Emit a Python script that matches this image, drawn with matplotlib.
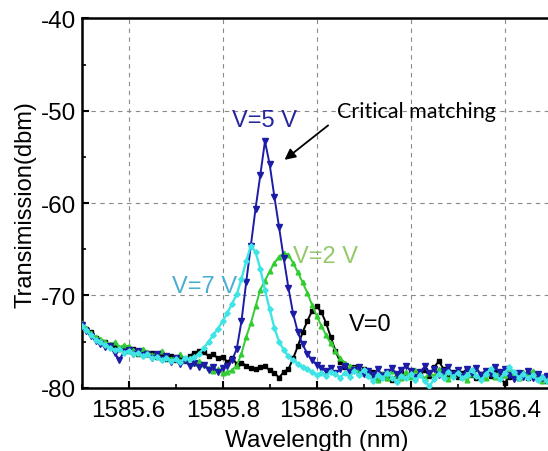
import numpy as np
import matplotlib
matplotlib.use("Agg")
import matplotlib.pyplot as plt
from matplotlib.ticker import MultipleLocator

# Wavelength sampling grid (nm)
wavelength = np.round(np.arange(1585.50, 1586.505, 0.01), 2)

v0 = [-73.1, -73.6, -74.0, -74.6, -74.9, -75.1, -75.5, -75.4, -75.8, -75.7,
      -76.0, -75.8, -76.3, -76.1, -76.4, -76.2, -76.7, -76.5, -76.9, -76.6,
      -77.0, -76.8, -77.1, -76.6, -76.2, -76.0, -76.1, -76.6, -76.4, -76.8,
      -76.7, -77.2, -76.8, -77.4, -77.3, -77.6, -77.9, -78.0, -77.8, -77.7,
      -78.1, -78.4, -78.9, -78.3, -78.0, -76.8, -75.5, -74.0, -72.8, -71.7,
      -71.2, -71.8, -73.0, -74.5, -76.0, -77.2, -77.8, -78.1, -77.8, -78.4,
      -78.0, -78.6, -78.3, -78.9, -78.5, -79.0, -79.2, -78.7, -78.3, -78.8,
      -78.4, -78.9, -78.5, -78.1, -78.7, -77.8, -77.1, -78.0, -78.6, -78.3,
      -78.8, -78.4, -78.0, -78.6, -79.0, -78.5, -78.2, -78.7, -78.3, -78.9,
      -79.5, -78.8, -78.4, -78.9, -78.5, -79.0, -78.6, -79.1, -78.8, -79.3, -79.0]

v2 = [-73.0, -73.5, -74.1, -74.5, -74.7, -75.0, -75.3, -75.1, -75.6, -75.4,
      -75.5, -75.9, -76.2, -75.8, -76.1, -76.5, -76.3, -76.0, -76.6, -76.9,
      -76.7, -76.4, -77.0, -76.8, -77.3, -77.1, -77.4, -77.9, -78.2, -78.0,
      -78.4, -78.3, -78.1, -77.6, -76.3, -74.5, -73.0, -71.2, -69.4, -68.4,
      -67.4, -66.5, -65.8, -65.4, -65.6, -66.5, -67.5, -68.6, -69.7, -71.0,
      -72.2, -73.3, -74.3, -75.2, -76.0, -76.8, -77.3, -77.6, -77.9, -78.0,
      -78.4, -78.1, -78.7, -79.2, -78.5, -78.9, -78.2, -78.6, -79.0, -78.3,
      -78.8, -78.1, -78.5, -79.0, -78.4, -78.7, -78.0, -78.5, -79.1, -78.6,
      -78.2, -78.8, -79.2, -78.5, -78.0, -78.6, -79.0, -78.4, -78.8, -78.2,
      -78.6, -77.9, -78.4, -78.9, -78.3, -78.7, -78.2, -78.8, -79.3, -78.6, -79.0]

v5 = [-73.2, -73.9, -74.4, -74.9, -75.3, -75.6, -75.5, -76.2, -77.0, -76.1,
      -75.9, -76.3, -76.0, -76.5, -76.3, -76.8, -76.4, -76.9, -76.6, -77.2,
      -76.8, -77.4, -77.0, -77.6, -77.3, -77.8, -77.5, -78.1, -77.8, -78.3,
      -77.9, -77.6, -77.0, -75.8, -72.8, -68.6, -64.6, -60.6, -57.0, -53.3,
      -55.8, -59.3, -62.6, -66.0, -69.2, -72.0, -74.0, -75.3, -76.3, -77.0,
      -77.5, -77.9, -78.2, -77.9, -78.4, -78.0, -77.6, -78.3, -78.1, -77.8,
      -78.5, -78.2, -78.6, -78.0, -78.7, -78.3, -77.9, -78.5, -78.1, -77.6,
      -78.2, -78.8, -78.3, -77.7, -78.4, -78.0, -78.6, -78.2, -77.8, -78.5,
      -78.1, -78.7, -78.0, -78.4, -77.9, -78.6, -78.2, -78.5, -77.8, -78.3,
      -78.0, -78.6, -79.1, -78.4, -78.8, -78.2, -78.9, -78.5, -79.0, -78.7, -79.2]

v7 = [-73.3, -73.8, -74.3, -74.8, -75.1, -75.4, -75.7, -75.9, -75.8, -76.2,
      -76.0, -76.4, -76.2, -76.6, -76.4, -76.8, -76.7, -77.0, -76.8, -77.1,
      -76.9, -77.2, -76.8, -76.9, -76.7, -76.3, -75.7, -75.0, -74.3, -73.6,
      -72.8, -71.9, -70.9, -69.9, -68.2, -66.3, -64.6, -65.3, -67.1, -69.4,
      -71.5, -73.5, -75.0, -75.9, -76.6, -77.0, -77.4, -77.8, -78.0, -78.3,
      -78.6, -78.4, -78.7, -78.3, -78.5, -78.9, -78.4, -78.8, -78.2, -78.6,
      -78.1, -78.7, -79.3, -78.6, -79.0, -78.4, -78.9, -79.4, -78.7, -79.0,
      -78.5, -79.2, -78.6, -79.3, -79.8, -79.1, -78.5, -78.9, -78.3, -78.8,
      -78.4, -79.0, -78.6, -78.1, -78.7, -79.2, -78.5, -78.0, -78.6, -79.1,
      -78.4, -77.8, -78.3, -78.9, -78.5, -79.0, -78.6, -79.2, -78.8, -79.3, -79.6]

labels = ["V=0", "V=2 V", "V=5 V", "V=7 V"]

plt.rcParams['font.family'] = ['Liberation Sans', 'DejaVu Sans']
plt.rcParams['axes.unicode_minus'] = False

fig = plt.figure(figsize=(5.48, 4.52), dpi=100)
ax = fig.add_axes([0.149, 0.140, 0.8577, 0.817])

ax.plot(wavelength, v0, color='black', marker='s', ms=3.2, lw=1.4, zorder=3)
ax.plot(wavelength, v2, color='#33cc33', marker='^', ms=3.4, lw=1.4, zorder=4)
ax.plot(wavelength, v5, color='#1c1ca6', marker='v', ms=3.8, lw=1.4, zorder=5)
ax.plot(wavelength, v7, color='#40e4e4', marker='D', ms=2.8, lw=1.7, zorder=6)

ax.set_xlim(1585.5, 1586.5)
ax.set_ylim(-80, -40)
ax.xaxis.set_minor_locator(MultipleLocator(0.1))
ax.yaxis.set_major_locator(MultipleLocator(10))
ax.yaxis.set_minor_locator(MultipleLocator(5))
ax.set_xticks([1585.6, 1585.8, 1586.0, 1586.2, 1586.4])
ax.set_xticklabels(["1585.6", "1585.8", "1586.0", "1586.2", "1586.4"])

ax.tick_params(which='major', direction='in', length=5, width=1.5, labelsize=17.5, pad=8)
ax.tick_params(which='minor', direction='in', length=3, width=1.2)
ax.tick_params(axis='y', pad=4)
ax.grid(True, which='major', ls=(0, (4, 4)), color='#8a8a8a', lw=0.8)
for s in ['left', 'bottom', 'top']:
    ax.spines[s].set_linewidth(1.8)
ax.spines['right'].set_visible(False)

ax.set_xlabel("Wavelength (nm)", fontsize=17.5, labelpad=6)
ax.set_ylabel("Transimission(dbm)", fontsize=17, labelpad=3)

lab_fs = 17
ax.text(1585.889, -51.0, labels[2], color='#25259e', fontsize=lab_fs, ha='center', va='center', zorder=7)
ax.text(1586.018, -65.7, labels[1], color='#93c96a', fontsize=lab_fs, ha='center', va='center', zorder=7)
ax.text(1585.761, -69.0, labels[3], color='#4aaed2', fontsize=lab_fs, ha='center', va='center', zorder=7)
ax.text(1586.113, -73.05, labels[0], color='black', fontsize=lab_fs, ha='center', va='center', zorder=7)
ax.text(1586.044, -50.0, "Critical matching", color='black', fontsize=15.5,
        family=['Lato', 'DejaVu Sans'], ha='left', va='center', zorder=7)
ax.annotate("", xy=(1585.927, -55.5), xytext=(1586.029, -51.4),
            arrowprops=dict(arrowstyle='-|>', color='black', lw=1.3, mutation_scale=16), zorder=7)

fig.savefig("out.png", dpi=100)
